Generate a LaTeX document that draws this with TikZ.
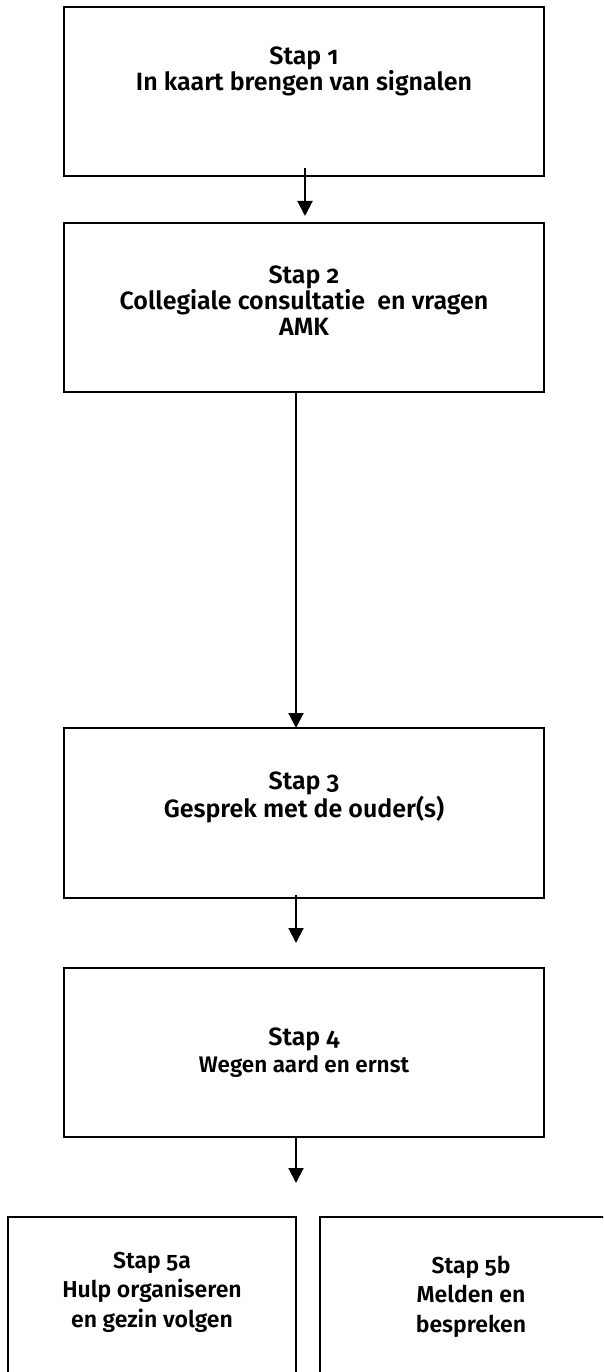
\documentclass[tikz,border=0pt]{standalone}
\usepackage{fontspec}
\setmainfont{Fira Sans}[Numbers=OldStyle, BoldFont={Fira Sans SemiBold}]
\usetikzlibrary{arrows.meta}
\begin{document}
\begin{tikzpicture}[x=1pt,y=-1pt,
  box/.style={draw, line width=2pt, rectangle, inner sep=0pt, outer sep=0pt},
  txt/.style={align=center, inner sep=0pt, anchor=base, font=\bfseries\fontsize{25}{26}\selectfont},
  txtb/.style={txt, font=\bfseries\fontsize{23}{29.5}\selectfont},
  arr/.style={line width=2pt, -{Triangle[width=15pt,length=15pt]}}]
\useasboundingbox (0,0) rectangle (603,1372);
\clip (0,0) rectangle (603,1372);
% boxes
\node[box, minimum width=480pt, minimum height=169pt] (s1) at (304,91.5) {};
\node[box, minimum width=480pt, minimum height=169pt] (s2) at (304,307.5) {};
\node[box, minimum width=480pt, minimum height=170pt] (s3) at (304,813) {};
\node[box, minimum width=480pt, minimum height=169pt] (s4) at (304,1052.5) {};
\node[box, minimum width=288pt, minimum height=200pt] (s5a) at (152,1317) {};
\node[box, minimum width=302pt, minimum height=200pt] (s5b) at (471,1317) {};
% texts (anchor base = baseline of last line)
\node[txt] (l1) at (304,91) {Stap 1\\In kaart brengen van signalen};
\node[txt] (l2) at (304,335) {Stap 2\\Collegiale consultatie\ \ en vragen\\AMK};
\node[txt] (l3) at (304,817) {Stap 3\\Gesprek met de ouder(s)};
\node[txt] (l4) at (304,1072) {Stap 4\\[1pt]{\fontsize{22.5}{26}\selectfont Wegen aard en ernst}};
\node[txtb] (l5a) at (152,1327) {Stap 5a\\Hulp organiseren\\en gezin volgen};
\node[txtb] (l5b) at (471,1332) {Stap 5b\\Melden en\\bespreken};
% arrows
\coordinate (t1) at (305,216);
\coordinate (mx) at (296,0);
\coordinate (t3) at (296,943);
\coordinate (t4) at (296,1183);
\draw[arr] ([yshift=8pt]s1.south -| t1) -- (t1);
\draw[arr] (s2.south -| mx) -- (s3.north -| mx);
\draw[arr] ([yshift=3pt]s3.south -| mx) -- (t3);
\draw[arr] (s4.south -| mx) -- (t4);
\end{tikzpicture}
\end{document}
